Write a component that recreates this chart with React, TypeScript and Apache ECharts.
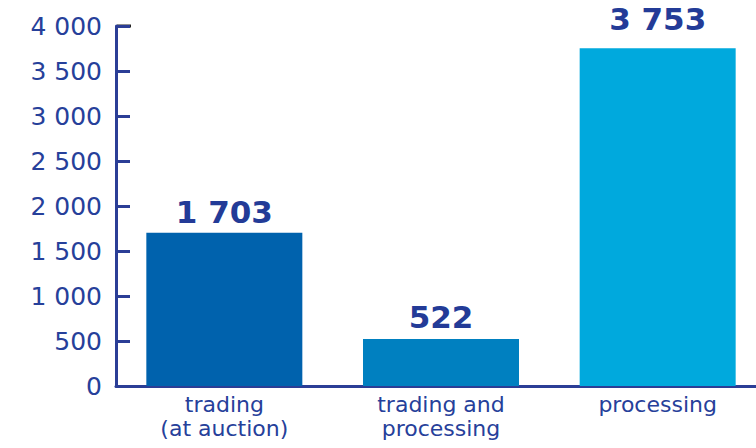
import React, { useEffect, useRef } from "react";
import * as echarts from "echarts";

const categories = ["trading\n(at auction)", "trading and\nprocessing", "processing"];
const values = [1703, 522, 3753];
const barColors = ["#0062ad", "#0080c0", "#00a9dd"];
const valueLabelDistances = [5, 7, 14];
const yMin = 0;
const yMax = 4000;
const yInterval = 500;

const TEXT = "#26409a";
const AXIS = "#2b3e96";
const FONT = "DejaVu Sans";

const fmt = (v: number) => String(v).replace(/\B(?=(\d{3})+(?!\d))/g, " ");

export default function App() {
  const ref = useRef<HTMLDivElement>(null);
  useEffect(() => {
    if (!ref.current) return;
    const chart = echarts.init(ref.current, null, { renderer: "svg" });
    chart.setOption({
      animation: false,
      grid: {
        left: 116,
        top: 26,
        width: 650,
        height: 360,
        containLabel: false,
        outerBoundsMode: "none",
      },
      xAxis: {
        type: "category",
        data: categories,
        axisLine: { lineStyle: { color: AXIS, width: 3 } },
        axisTick: { inside: true, length: 8, lineStyle: { color: AXIS, width: 2 } },
        axisLabel: {
          color: TEXT,
          fontFamily: FONT,
          fontSize: 22,
          lineHeight: 24,
          margin: 6,
        },
      },
      yAxis: {
        type: "value",
        min: yMin,
        max: yMax,
        interval: yInterval,
        splitLine: { show: false },
        axisLine: { show: true, lineStyle: { color: AXIS, width: 3 } },
        axisTick: { show: true, inside: true, length: 14, lineStyle: { color: AXIS, width: 3 } },
        axisLabel: {
          color: TEXT,
          fontFamily: FONT,
          fontSize: 25,
          margin: 14,
          formatter: (v: number) => fmt(v),
        },
      },
      graphic: [
        {
          type: "line",
          shape: { x1: 117, y1: 26, x2: 131, y2: 26 },
          style: { stroke: "#222222", lineWidth: 3 },
        },
      ],
      series: [
        {
          type: "bar",
          barWidth: "72%",
          data: values.map((v, i) => ({
            value: v,
            itemStyle: { color: barColors[i] },
            label: { distance: valueLabelDistances[i] },
          })),
          label: {
            show: true,
            position: "top",
            color: "#233b97",
            fontFamily: FONT,
            fontWeight: "bold",
            fontSize: 31,
            formatter: (p: any) => fmt(p.value),
          },
        },
      ],
    });
    return () => chart.dispose();
  }, []);
  return (
    <div
      ref={ref}
      style={{ position: "absolute", left: 0, top: 0, width: 756, height: 448, overflow: "hidden" }}
    />
  );
}
